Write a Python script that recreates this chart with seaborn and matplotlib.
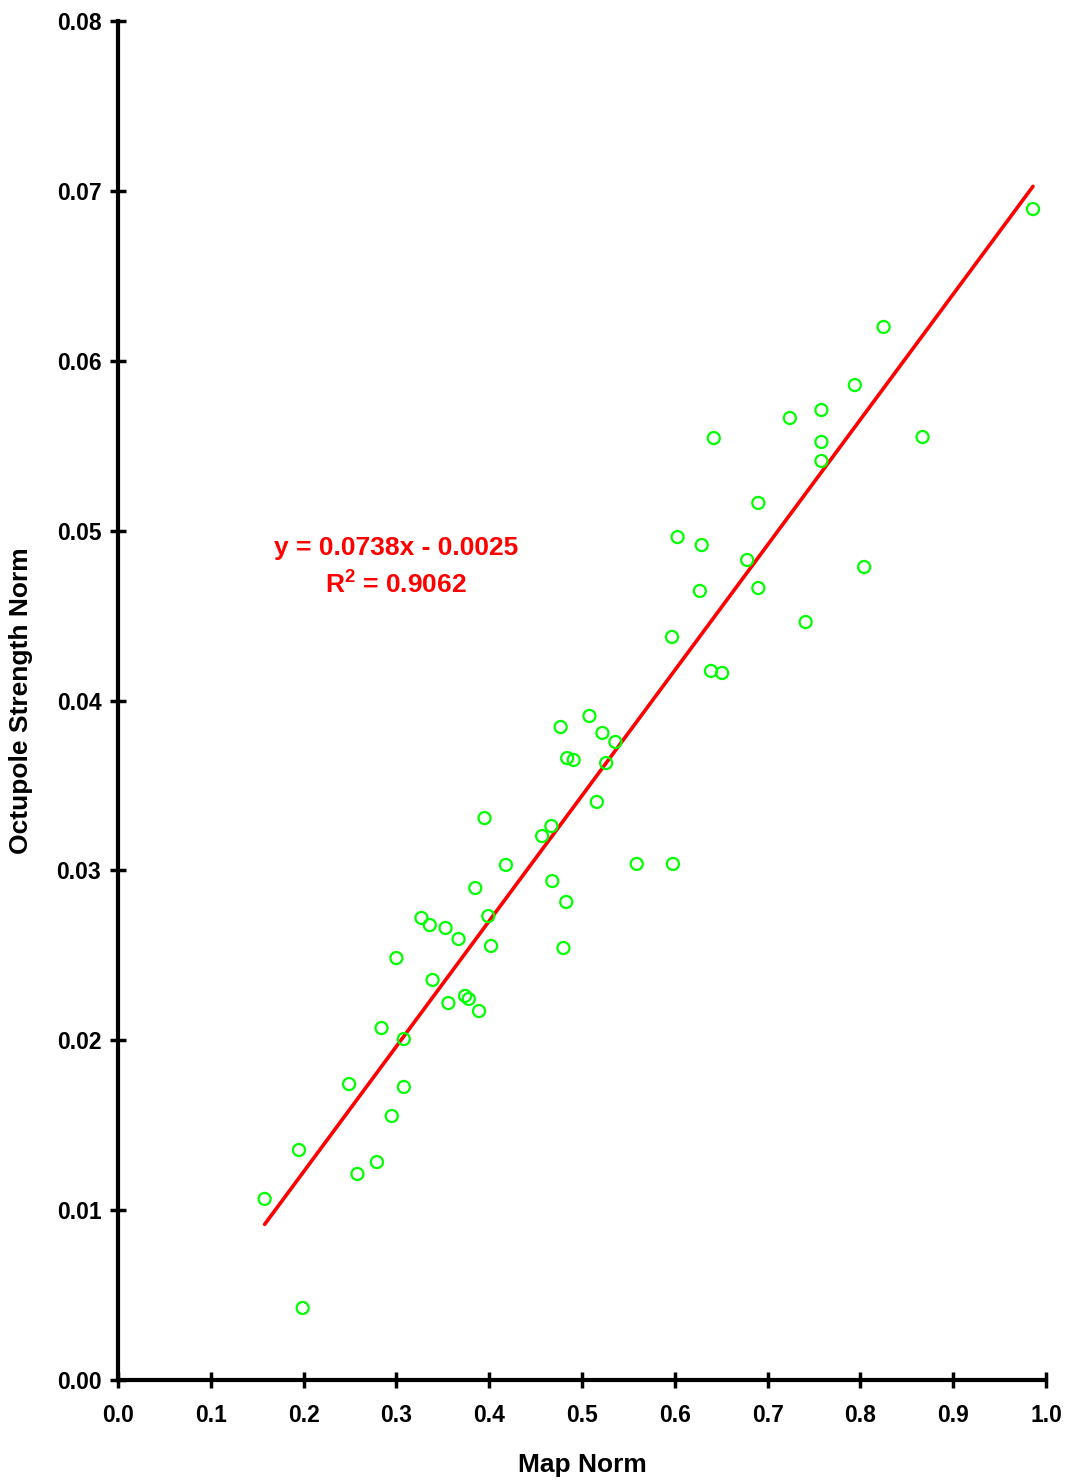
import numpy as np
import pandas as pd
import matplotlib
matplotlib.use("Agg")
import matplotlib.pyplot as plt
import seaborn as sns

map_norm = [0.158, 0.199, 0.195, 0.249, 0.258, 0.279, 0.295, 0.308, 0.284, 0.308,
            0.300, 0.327, 0.336, 0.353, 0.367, 0.339, 0.356, 0.374, 0.378, 0.389,
            0.385, 0.399, 0.402, 0.395, 0.418, 0.457, 0.467, 0.468, 0.483, 0.480,
            0.477, 0.484, 0.491, 0.508, 0.522, 0.536, 0.526, 0.516, 0.559, 0.598,
            0.597, 0.603, 0.629, 0.627, 0.639, 0.651, 0.642, 0.678, 0.690, 0.690,
            0.724, 0.741, 0.758, 0.758, 0.758, 0.794, 0.804, 0.825, 0.867, 0.986]
octupole_norm = [0.01066, 0.00424, 0.01354, 0.01742, 0.01213, 0.01283, 0.01554, 0.01725, 0.02072, 0.02007,
                 0.02484, 0.02720, 0.02678, 0.02661, 0.02596, 0.02355, 0.02219, 0.02261, 0.02243, 0.02172,
                 0.02896, 0.02731, 0.02555, 0.03308, 0.03032, 0.03202, 0.03261, 0.02937, 0.02814, 0.02543,
                 0.03844, 0.03661, 0.03650, 0.03909, 0.03809, 0.03756, 0.03632, 0.03403, 0.03038, 0.03038,
                 0.04374, 0.04962, 0.04915, 0.04645, 0.04174, 0.04162, 0.05545, 0.04827, 0.05163, 0.04662,
                 0.05663, 0.04462, 0.05710, 0.05522, 0.05410, 0.05857, 0.04786, 0.06199, 0.05551, 0.06893]

slope = 0.0738
intercept = -0.0025
r_squared = 0.9062

x_ticks = [0.0, 0.1, 0.2, 0.3, 0.4, 0.5, 0.6, 0.7, 0.8, 0.9, 1.0]
y_ticks = [0.00, 0.01, 0.02, 0.03, 0.04, 0.05, 0.06, 0.07, 0.08]

sns.set_theme(style="ticks")
plt.rcParams['font.family'] = ['Liberation Sans', 'DejaVu Sans']
plt.rcParams['font.weight'] = 'bold'
plt.rcParams['text.color'] = 'black'
plt.rcParams['axes.labelcolor'] = 'black'
plt.rcParams['xtick.color'] = 'black'
plt.rcParams['ytick.color'] = 'black'
plt.rcParams['mathtext.fontset'] = 'custom'
plt.rcParams['mathtext.rm'] = 'Liberation Sans:bold'
plt.rcParams['mathtext.bf'] = 'Liberation Sans:bold'
plt.rcParams['mathtext.default'] = 'bf'

df = pd.DataFrame({"Map Norm": map_norm, "Octupole Strength Norm": octupole_norm})

fig = plt.figure(figsize=(10.69, 14.80), dpi=100)
ax = fig.add_axes([118/1069, 100/1480, (1046-118)/1069, (1380-21)/1480])

sns.scatterplot(data=df, x="Map Norm", y="Octupole Strength Norm", ax=ax,
                marker='o', s=75, facecolor='none', edgecolor='#00ff00',
                linewidth=1.6, zorder=3)

xs = np.array([min(map_norm), max(map_norm)])
line_df = pd.DataFrame({"x": xs, "y": slope * xs + intercept})
sns.lineplot(data=line_df, x="x", y="y", ax=ax, color='#ff0000', linewidth=2.6, zorder=2)

ax.set_xlim(0, 1.0)
ax.set_ylim(0, 0.08)
ax.set_xticks(x_ticks)
ax.set_yticks(y_ticks)
ax.set_xticklabels([f"{v:.1f}" for v in x_ticks], fontsize=16.5, fontweight='bold', color='black')
ax.set_yticklabels([f"{v:.2f}" for v in y_ticks], fontsize=16.5, fontweight='bold', color='black')
ax.tick_params(axis='both', direction='inout', length=12, width=2.5, color='black')
ax.tick_params(axis='x', pad=11)
ax.tick_params(axis='y', pad=6)

for s in ['top', 'right']:
    ax.spines[s].set_visible(False)
for s in ['left', 'bottom']:
    ax.spines[s].set_linewidth(3)
    ax.spines[s].set_color('black')

ax.set_xlabel("Map Norm", fontsize=19, fontweight='bold', labelpad=19, color='black')
ax.set_ylabel("Octupole Strength Norm", fontsize=19, fontweight='bold', labelpad=17, color='black')

sign = '-' if intercept < 0 else '+'
ax.text(0.2996, 0.04898, f"y = {slope:.4f}x {sign} {abs(intercept):.4f}", color='#ff0000',
        fontsize=19, fontweight='bold', ha='center', va='center')
ax.text(0.2996, 0.0468, f"R$^2$ = {r_squared:.4f}", color='#ff0000',
        fontsize=19, fontweight='bold', ha='center', va='center')

fig.savefig("out.png", dpi=100)
